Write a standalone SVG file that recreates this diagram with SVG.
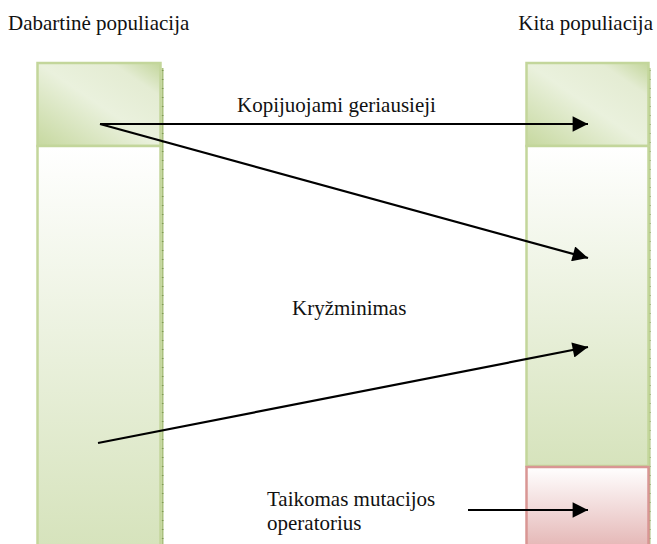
<svg xmlns="http://www.w3.org/2000/svg" width="657" height="544" viewBox="0 0 657 544">
  <style>
    .lbl { font-size: 21px; fill: #111; }
    .gbox { stroke: #c3d69b; stroke-width: 2.5; }
    .pbox { stroke: #d99694; stroke-width: 2.5; }
    .shadow { stroke: #a9c07e; stroke-width: 2; }
    .ticks { stroke: #7f9a55; stroke-width: 2; stroke-dasharray: 1 8; }
    .conn { stroke: #000; stroke-width: 2.2; fill: none; marker-end: url(#head); }
  </style>
  <defs>
    <linearGradient id="topFill" x1="0" y1="1" x2="1" y2="0">
      <stop offset="0" stop-color="#c6d89f"/>
      <stop offset="0.5" stop-color="#eaf1dd"/>
      <stop offset="0.8" stop-color="#e4ecd3"/>
      <stop offset="1" stop-color="#c3d69b"/>
    </linearGradient>
    <linearGradient id="bodyFill" x1="0" y1="0" x2="0" y2="1">
      <stop offset="0" stop-color="#ffffff"/>
      <stop offset="1" stop-color="#d6e3bc"/>
    </linearGradient>
    <linearGradient id="mutFill" x1="0" y1="0" x2="0" y2="1">
      <stop offset="0" stop-color="#ffffff"/>
      <stop offset="1" stop-color="#e5b8b7"/>
    </linearGradient>
    <marker id="head" viewBox="0 0 10 10" refX="10" refY="5" markerWidth="8" markerHeight="7" markerUnits="strokeWidth" orient="auto">
      <path d="M0,0 L10,5 L0,10 z" fill="#000"/>
    </marker>
  </defs>

  <!-- headings -->
  <text class="lbl" font-family="'Liberation Serif', 'Times New Roman', serif" x="8" y="30">Dabartinė populiacija</text>
  <text class="lbl" font-family="'Liberation Serif', 'Times New Roman', serif" x="653" y="30" text-anchor="end">Kita populiacija</text>

  <!-- current population column -->
  <g id="current-population">
    <line class="shadow" x1="162.5" y1="68" x2="162.5" y2="544"/>
    <line class="ticks" x1="162.5" y1="70" x2="162.5" y2="544"/>
    <rect id="current-best" class="gbox" x="37.5" y="63" width="123" height="83" fill="url(#topFill)"/>
    <rect id="current-rest" class="gbox" x="37.5" y="146" width="123" height="400" fill="url(#bodyFill)"/>
  </g>

  <!-- next population column -->
  <g id="next-population">
    <line class="shadow" x1="649.5" y1="68" x2="649.5" y2="544"/>
    <line class="ticks" x1="649.5" y1="70" x2="649.5" y2="544"/>
    <rect id="next-best" class="gbox" x="526.5" y="63" width="122" height="83" fill="url(#topFill)"/>
    <rect id="next-crossover" class="gbox" x="526.5" y="146" width="122" height="320" fill="url(#bodyFill)"/>
    <rect id="next-mutation" class="pbox" x="526.5" y="467" width="122" height="79" fill="url(#mutFill)"/>
  </g>

  <!-- labels -->
  <g id="label-copy"><text class="lbl" font-family="'Liberation Serif', 'Times New Roman', serif" x="237" y="112">Kopijuojami geriausieji</text></g>
  <g id="label-crossover"><text class="lbl" font-family="'Liberation Serif', 'Times New Roman', serif" x="292" y="315">Kryžminimas</text></g>
  <g id="label-mutation">
    <text class="lbl" font-family="'Liberation Serif', 'Times New Roman', serif" x="267" y="506">Taikomas mutacijos</text>
    <text class="lbl" font-family="'Liberation Serif', 'Times New Roman', serif" x="267" y="530">operatorius</text>
  </g>

  <!-- connectors -->
  <g id="connectors">
    <line class="conn" x1="100" y1="124" x2="588" y2="124"/>
    <line class="conn" x1="100" y1="124" x2="588" y2="258"/>
    <line class="conn" x1="98" y1="443" x2="588" y2="347"/>
    <line class="conn" x1="468" y1="510" x2="588" y2="510"/>
  </g>
</svg>
